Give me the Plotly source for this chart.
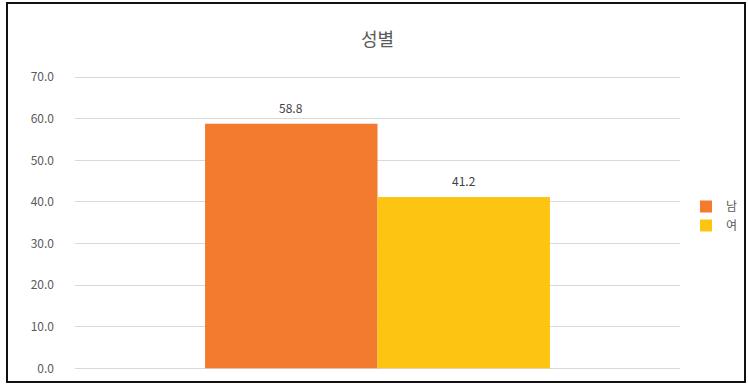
import plotly.graph_objects as go

categories = ["성별"]
series_names = ["남", "여"]
values_male = [58.8]
values_female = [41.2]
colors = ["#F37B2D", "#FDC512"]

W, H = 748, 384
ML, MR, MT, MB = 75, 68, 75, 14
BARGAP = 0.43
plot_w = W - ML - MR
plot_h = H - MT - MB

fig = go.Figure()
all_vals = [values_male, values_female]
for name, vals, col in zip(series_names, all_vals, colors):
    fig.add_trace(go.Bar(
        x=categories, y=vals, name=name,
        marker=dict(color=col, line=dict(width=0)),
        hoverinfo="y+name",
    ))

# data labels above bars (positioned via the data scale)
n = len(series_names)
bar_px = plot_w * (1 - BARGAP) / n
annotations = []
for i, vals in enumerate(all_vals):
    for c, v in zip(categories, vals):
        annotations.append(dict(
            x=c, y=v, xref="x", yref="y", text=f"{v:.1f}", showarrow=False,
            xshift=(i - (n - 1) / 2) * bar_px, yshift=16,
            font=dict(size=12, color="#404040"),
        ))

Y0, Y1 = -0.4, 70.5

def ypaper(px):
    return (H - MB - px) / plot_h

fig.update_layout(
    width=W, height=H,
    margin=dict(l=ML, r=MR, t=MT, b=MB, autoexpand=False),
    paper_bgcolor="white", plot_bgcolor="white",
    font=dict(family="Noto Sans CJK KR, Noto Sans, sans-serif", color="#595959"),
    title=dict(text="성별", x=0.5, xref="paper", y=1 - 40 / H, yref="container",
               xanchor="center", yanchor="middle",
               font=dict(size=18, color="#595959")),
    barmode="group", bargap=BARGAP, bargroupgap=0,
    showlegend=True,
    legend=dict(x=(686 - ML) / plot_w, xanchor="left", y=ypaper(216), yanchor="middle",
                font=dict(size=12, color="#595959"), itemwidth=30,
                tracegroupgap=0, bgcolor="rgba(0,0,0,0)"),
    xaxis=dict(type="category", showticklabels=False, showgrid=False,
               showline=False, zeroline=False),
    yaxis=dict(range=[Y0, Y1], tickvals=[0, 10, 20, 30, 40, 50, 60, 70],
               tickformat=".1f", showgrid=True,
               gridcolor="#D9D9D9", gridwidth=1, zeroline=False, showline=False,
               ticks="", ticklabelstandoff=20,
               tickfont=dict(size=12, color="#595959")),
    annotations=annotations,
    shapes=[dict(type="rect", xref="paper", yref="paper",
                 x0=(7 - ML) / plot_w, x1=(745 - ML) / plot_w,
                 y0=ypaper(382), y1=ypaper(3),
                 line=dict(color="#111111", width=2), layer="below")],
)

fig.write_html("out.html")
